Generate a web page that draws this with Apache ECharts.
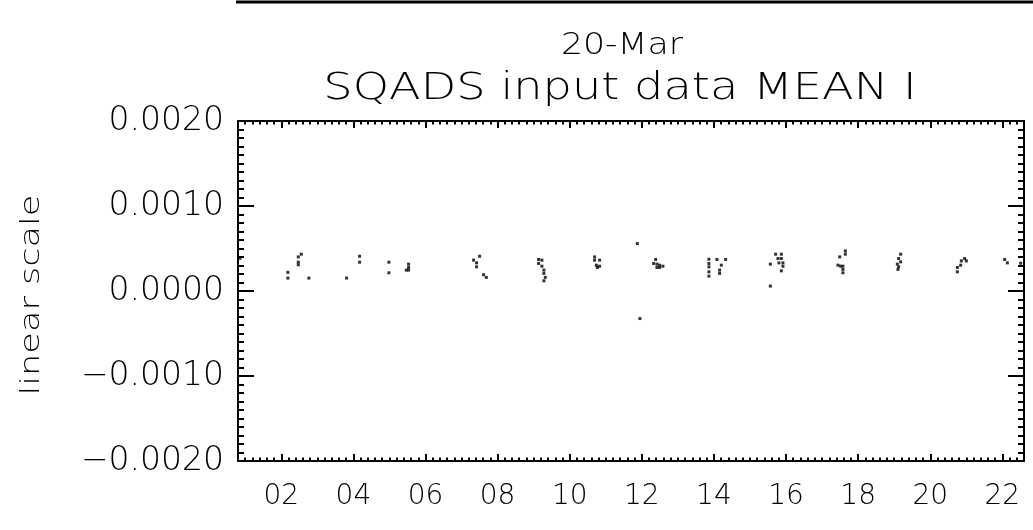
<!DOCTYPE html>
<html>
<head>
<meta charset="utf-8">
<title>SQADS input data MEAN I</title>
<script src="https://cdn.jsdelivr.net/npm/echarts@6/dist/echarts.min.js"></script>
<style>
  html, body { margin: 0; padding: 0; background: #ffffff; }
  #chart { width: 1033px; height: 530px; }
</style>
</head>
<body>
<div id="chart"></div>
<script>
// Observation times (hours of day) and the MEAN I values recorded at them
const HOURS = [
  0.857, 2.183, 2.183, 2.472, 2.472, 2.472, 2.555, 2.766, 3.811, 4.172,
  4.172, 4.985, 4.985, 5.467, 5.531, 5.531, 5.531, 7.334, 7.417, 7.417,
  7.501, 7.612, 7.687, 9.137, 9.137, 9.229, 9.229, 9.284, 9.284, 9.284,
  9.323, 10.691, 10.691, 10.738, 10.766, 10.829, 10.829, 11.875, 11.947, 12.327,
  12.383, 12.419, 12.419, 12.494, 12.494, 12.585, 13.861, 13.861, 13.861, 13.861,
  13.861, 14.083, 14.158, 14.158, 14.205, 14.325, 15.565, 15.565, 15.712, 15.777,
  15.803, 15.870, 15.870, 15.870, 15.914, 15.914, 17.440, 17.487, 17.514, 17.578,
  17.578, 17.578, 17.645, 17.645, 19.087, 19.104, 19.124, 19.124, 19.179, 19.179,
  20.752, 20.752, 20.843, 20.862, 20.954, 21.001, 22.064, 22.139, 22.508
];
const MEAN_I = [
  0.000386, 0.000219, 0.000152, 0.000401, 0.000339, 0.000308, 0.000433, 0.000152, 0.000152, 0.000409,
  0.000339, 0.000339, 0.000214, 0.000246, 0.000316, 0.000277, 0.000246, 0.000363, 0.000331, 0.000284,
  0.000409, 0.000191, 0.000160, 0.000371, 0.000324, 0.000363, 0.000292, 0.000246, 0.000207, 0.000120,
  0.000160, 0.000401, 0.000363, 0.000304, 0.000277, 0.000363, 0.000292, 0.000558, -0.000324, 0.000324,
  0.000371, 0.000316, 0.000277, 0.000304, 0.000277, 0.000292, 0.000374, 0.000324, 0.000284, 0.000226,
  0.000175, 0.000371, 0.000246, 0.000207, 0.000304, 0.000371, 0.000316, 0.000058, 0.000433, 0.000382,
  0.000331, 0.000433, 0.000382, 0.000237, 0.000331, 0.000292, 0.000304, 0.000401, 0.000292, 0.000292,
  0.000254, 0.000214, 0.000471, 0.000433, 0.000316, 0.000254, 0.000382, 0.000284, 0.000433, 0.000343,
  0.000277, 0.000226, 0.000304, 0.000354, 0.000382, 0.000354, 0.000371, 0.000331, 0.000327
];

// Axis extents and tick labels
const X_RANGE = [0.8, 22.6];
const X_TICK_VALUES = [2, 4, 6, 8, 10, 12, 14, 16, 18, 20, 22];
const X_TICK_LABELS = ['02', '04', '06', '08', '10', '12', '14', '16', '18', '20', '22'];
const Y_RANGE = [-0.002, 0.002];
const Y_STEP = 0.001;

const DATE_LABEL = '20-Mar';
const TITLE = 'SQADS input data MEAN I';
const Y_NAME = 'linear scale';

const FONT = '"DejaVu Sans", sans-serif';
const WEIGHT = 200;
const INK = '#000000';

// minor ticks every 12 minutes along the time axis
const xMinor = [];
for (let k = Math.round(X_RANGE[0] * 5); k <= Math.round(X_RANGE[1] * 5); k++) {
  const v = k / 5;
  if (!X_TICK_VALUES.includes(Math.round(v * 1000) / 1000)) xMinor.push(v);
}

const points = HOURS.map((h, i) => [h, MEAN_I[i]]);

function xAxisDef(position, values, len, showLine, showLabels) {
  return {
    type: 'value', position: position,
    min: X_RANGE[0], max: X_RANGE[1],
    axisLine: { show: showLine, onZero: false, lineStyle: { color: INK, width: 2 } },
    axisTick: { show: true, inside: true, length: len, customValues: values,
                lineStyle: { color: INK, width: 2 } },
    axisLabel: showLabels ? {
      show: true, customValues: X_TICK_VALUES, margin: 22,
      color: INK, fontFamily: FONT, fontWeight: WEIGHT, fontSize: 28,
      formatter: v => X_TICK_LABELS[X_TICK_VALUES.indexOf(Math.round(v))]
    } : { show: false },
    splitLine: { show: false }
  };
}

function yAxisDef(position, showLabels) {
  return {
    type: 'value', position: position,
    min: Y_RANGE[0], max: Y_RANGE[1], interval: Y_STEP,
    axisLine: { show: true, onZero: false, lineStyle: { color: INK, width: 2 } },
    axisTick: { show: true, inside: true, length: 16, lineStyle: { color: INK, width: 2 } },
    minorTick: { show: true, splitNumber: 10, length: 6, lineStyle: { color: INK, width: 2 } },
    axisLabel: showLabels ? {
      show: true, margin: 14, color: INK, fontFamily: FONT, fontWeight: WEIGHT, fontSize: 33,
      formatter: v => v.toFixed(4).replace('-', '\u2212')
    } : { show: false },
    splitLine: { show: false }, minorSplitLine: { show: false }
  };
}

const chart = echarts.init(document.getElementById('chart'), null, { renderer: 'canvas' });
chart.setOption({
  animation: false,
  backgroundColor: '#ffffff',
  grid: { left: 238, top: 121, width: 786, height: 340, containLabel: false },
  xAxis: [
    xAxisDef('bottom', X_TICK_VALUES, 7, true, true),
    xAxisDef('top', X_TICK_VALUES, 7, true, false),
    xAxisDef('bottom', xMinor, 3.5, false, false),
    xAxisDef('top', xMinor, 3.5, false, false)
  ],
  yAxis: [
    yAxisDef('left', true),
    yAxisDef('right', false)
  ],
  graphic: [
    { type: 'line', shape: { x1: 236, y1: 2, x2: 1033, y2: 2 },
      style: { stroke: INK, lineWidth: 3 } },
    { type: 'text', x: 622, y: 46, scaleX: 1.12,
      style: { text: DATE_LABEL, font: WEIGHT + ' 31px ' + FONT, fill: INK,
               textAlign: 'center', textVerticalAlign: 'middle' } },
    { type: 'text', x: 620, y: 89, scaleX: 1.25,
      style: { text: TITLE, font: WEIGHT + ' 37px ' + FONT, fill: INK,
               textAlign: 'center', textVerticalAlign: 'middle' } },
    { type: 'text', x: 32, y: 295, rotation: Math.PI / 2, scaleX: 1.3,
      style: { text: Y_NAME, font: WEIGHT + ' 27px ' + FONT, fill: INK,
               textAlign: 'center', textVerticalAlign: 'middle' } }
  ],
  series: [{
    type: 'scatter',
    xAxisIndex: 0, yAxisIndex: 0,
    data: points,
    symbol: 'rect', symbolSize: 3,
    itemStyle: { color: INK },
    silent: true
  }]
});
</script>
</body>
</html>
